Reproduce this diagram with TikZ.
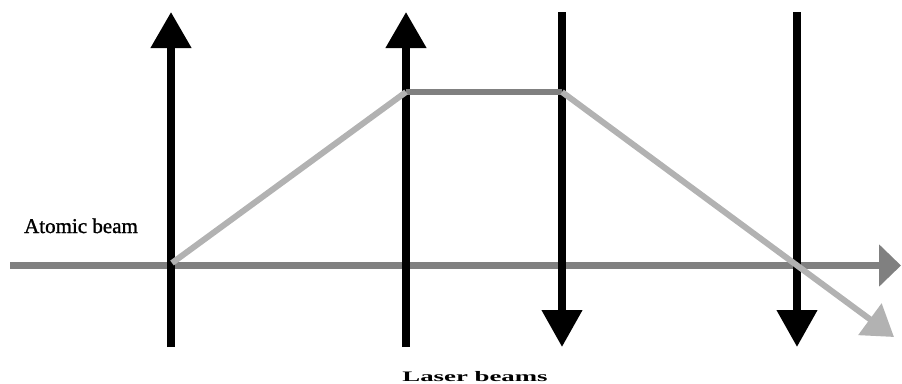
\documentclass[tikz,border=0pt]{standalone}
\usepackage{fontspec}
\setmainfont{Liberation Serif}
\newfontfamily\heavyserif[FakeBold=1.2]{Liberation Serif}
\usepackage{xcolor}
\definecolor{cLaser}{HTML}{000000}
\definecolor{cBeam}{HTML}{808080}
\definecolor{cPath}{HTML}{B2B2B2}
\usepackage{tikz}
\usetikzlibrary{positioning,arrows.meta}
\tikzset{
  laser-up/.style={-{Triangle[length=36pt,width=39pt]},line width=7.5pt,draw=cLaser},
  laser-down/.style={-{Triangle[length=37pt,width=39pt]},line width=7.5pt,draw=cLaser},
  atom-beam/.style={-{Triangle[length=22pt,width=41pt]},line width=7pt,draw=cBeam},
  atom-path/.style={line width=6pt,draw=cPath},
  atom-flat/.style={line width=6pt,draw=cBeam},
  label-beam/.style={font=\heavyserif\fontsize{21}{23}\selectfont,anchor=base},
}

\begin{document}
\begin{tikzpicture}[x=1pt,y=-1pt]
  \useasboundingbox (0,0) rectangle (902,383);
  % atomic beam
  \coordinate (ab-start) at (10,265.5);
  \coordinate (ab-end) at (901,265.5);
  \draw[atom-beam] (ab-start) -- (ab-end);
  % laser beams
  \coordinate (l1-bot) at (171,347);
  \coordinate (l1-top) at (171,12);
  \coordinate (l2-bot) at (406,347);
  \coordinate (l2-top) at (406,12);
  \coordinate (l3-top) at (562,12);
  \coordinate (l3-bot) at (562,347);
  \coordinate (l4-top) at (797,12);
  \coordinate (l4-bot) at (797,347);
  \draw[laser-up] (l1-bot) -- (l1-top);
  \draw[laser-up] (l2-bot) -- (l2-top);
  \draw[laser-down] (l3-top) -- (l3-bot);
  \draw[laser-down] (l4-top) -- (l4-bot);
  % deflected atoms
  \coordinate (p-in) at (172,263);
  \coordinate (p-up) at (406,92);
  \coordinate (p-down) at (562,92);
  \coordinate (p-out) at (894,337);
  \draw[atom-flat] (p-up) -- (p-down);
  \draw[atom-path,line join=miter] (p-in) -- (p-up);
  \draw[atom-path,-{Triangle[length=30pt,width=38pt]}] (p-down) -- (p-out);
  % labels
  \node[label-beam] (lbl-atom) at (81,233) {Atomic beam};
  \node[anchor=base] (lbl-laser) at (475,381)
    {\scalebox{1.85}[1]{\fontsize{14.5}{16}\selectfont\bfseries Laser beams}};
\end{tikzpicture}
\end{document}
